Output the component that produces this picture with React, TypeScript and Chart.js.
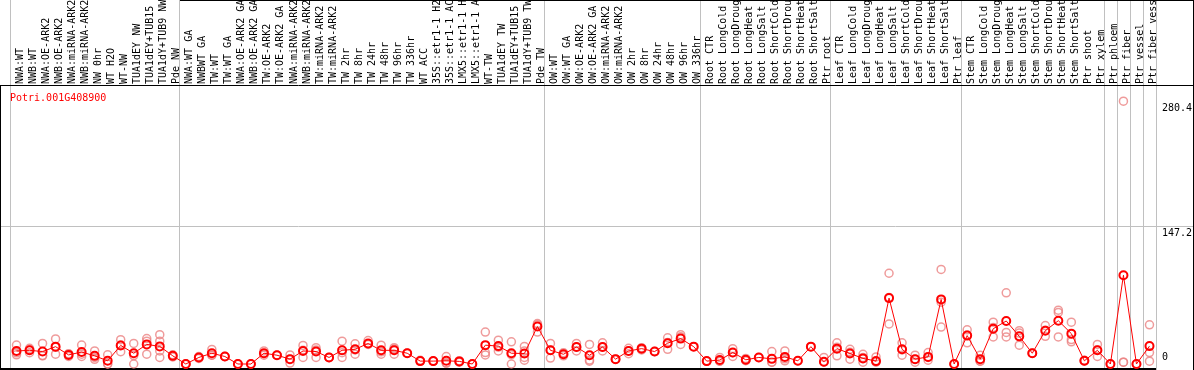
import React, { useEffect, useRef } from "react";
import { Chart, registerables } from "chart.js";

Chart.register(...registerables);

const geneId = "Potri.001G408900";

const categories = [
  "NWA:WT", "NWB:WT", "NWA:OE-ARK2", "NWB:OE-ARK2", "NWA:miRNA-ARK2", "NWB:miRNA-ARK2",
  "NW 0hr", "WT H2O", "WT-NW", "TUA1dEY NW", "TUA1dEY+TUB15 NW", "TUA1dY+TUB9 NW", "Pde NW",
  "NWA:WT GA", "NWBWT GA", "TW:WT", "TW:WT GA", "NWA:OE-ARK2 GA", "NWB:OE-ARK2 GA",
  "TW:OE-ARK2", "TW:OE-ARK2 GA", "NWA:miRNA-ARK2 GA", "NWB:miRNA-ARK2 GA", "TW:miRNA-ARK2",
  "TW:miRNA-ARK2", "TW 2hr", "TW 8hr", "TW 24hr", "TW 48hr", "TW 96hr", "TW 336hr", "WT ACC",
  "35S::etr1-1 H2O", "35S::etr1-1 ACC", "LMX5::etr1-1 H2O", "LMX5::etr1-1 ACC", "WT-TW",
  "TUA1dEY TW", "TUA1dEY+TUB15 TW", "TUA1dY+TUB9 TW", "Pde TW",
  "OW:WT", "OW:WT GA", "OW:OE-ARK2", "OW:OE-ARK2 GA", "OW:miRNA-ARK2", "OW:miRNA-ARK2",
  "OW 2hr", "OW 8hr", "OW 24hr", "OW 48hr", "OW 96hr", "OW 336hr",
  "Root CTR", "Root LongCold", "Root LongDrought", "Root LongHeat", "Root LongSalt",
  "Root ShortCold", "Root ShortDrought", "Root ShortHeat", "Root ShortSalt", "Ptr root",
  "Leaf CTR", "Leaf LongCold", "Leaf LongDrought", "Leaf LongHeat", "Leaf LongSalt",
  "Leaf ShortCold", "Leaf ShortDrought", "Leaf ShortHeat", "Leaf ShortSalt", "Ptr leaf",
  "Stem CTR", "Stem LongCold", "Stem LongDrought", "Stem LongHeat", "Stem LongSalt",
  "Stem ShortCold", "Stem ShortDrought", "Stem ShortHeat", "Stem ShortSalt", "Ptr shoot", "Ptr xylem",
  "Ptr phloem", "Ptr fiber", "Ptr vessel", "Ptr fiber vessel",
];

const groupSizes = [13, 28, 12, 10, 10, 11, 1, 1, 1, 1];

const meanValues = [
  13.9, 14.6, 13.3, 18.5, 9.7, 12.8, 8.7, 3.4, 19.8, 11.5, 20.9, 18.8, 8.7,
  0, 7, 11.5, 8, 0, 0, 11.5, 9.4, 5.2, 13.9, 13.3, 7, 14.6, 15.7, 21.9, 14.6, 14.6, 11.5, 3.1, 3.1, 3.4, 2.8, 0, 20.1, 19.1, 11.5, 11.2, 40,
  14.6, 10.4, 18.1, 9.4, 18.1, 5.2, 13.9, 16.4, 13.3, 22.2, 27.1, 18.5,
  3.1, 4.2, 12.2, 4.5, 7, 5.5, 7.6, 3.4, 18.5, 2.4,
  16.4, 11.2, 6, 3.1, 70.3, 15.7, 5.2, 7.6, 68.9, 0,
  30.3, 5.2, 37.6, 45.9, 29.5, 11.5, 35.5, 46.2, 32.4, 3.4, 14.6,
  0, 94.7, 0, 19.1,
];

const rep1 = [
  20.2, 16.7, 21.9, 26.8, 10.5, 20.2, 13.9, 9.8, 26, 21.9, 27.1, 31.3, 9.8,
  0, 8, 15.6, 8, 0, 0, 13.9, 9.4, 9.7, 19.8, 17.4, 7, 24.3, 21.6, 25, 20.1, 17.4, 11.5, 3, 3, 8, 3.5, 0, 34.1, 25.4, 23.7, 18.8, 43.1,
  21.9, 12.1, 21.9, 20.9, 22.6, 5.2, 11, 17.4, 13.3, 27.9, 31.3, 18.5,
  3, 7, 16.4, 5.9, 7, 13.3, 13.9, 3.4, 18.5, 7,
  22.6, 15.7, 10.4, 7.6, 96.8, 22.6, 9.4, 12.2, 100.9, 0,
  36.5, 9.4, 44.6, 75.9, 35.5, 11.5, 41, 57.4, 44.6, 3, 20.9,
  0, 280.4, 0, 41.8,
];

const rep2 = [
  9.8, 12.1, 8.7, 10.5, 8, 10.5, 7, 0, 20.2, 0, 24.4, 24.4, 7.6,
  0, 6, 9.4, 8, 0, 0, 9.4, 9.4, 5.2, 7, 7, 7, 7, 10.4, 20.9, 10.4, 10.4, 11.5, 4, 3, 1, 2, 0, 12.2, 13.9, 0, 13.9, 34.1,
  6.3, 8.7, 13.9, 4.2, 13.9, 5.2, 16.8, 15, 13.3, 15.7, 20.9, null,
  3, 3, 8, 3.6, null, 2, 3.4, null, null, 2,
  8.7, 5.2, 7, 2, 42.8, 9.4, 5.2, 7, 39.4, null,
  22.6, 3, 28.9, 33.7, 20.1, 11.5, 29.5, 55, 26.1, 4, 8,
  null, 2, null, 12.2,
];

const rep3 = [
  11.9, 14.9, 9, 17.8, 11, 8, 5, 0, 13.2, 9, 10.5, 13.9, null,
  null, null, 9.4, null, null, null, 11, null, 1, 14.6, 15, null, 12, 15, 21.5, 13, 16, null, null, null, 1, null, null, 9.7, 18, 10, 7, 42,
  15, 10.5, 18, 3, 18, null, 14, 16.7, null, 23, 29, null,
  null, 3, 12, 4, null, 2, 5.5, null, null, null,
  18, 12.5, 2, null, 71, 15, 2, 4, 66, null,
  31, 3, 39, 28.9, 33, null, 36, 28.9, 23.7, null, 15,
  null, 2, null, 3,
];

const rep4 = [
  null, null, null, null, null, null, null, null, null, null, null, 7, null,
  null, null, null, null, null, null, null, null, null, null, null, null, null, null, null, null, null, null, null, null, null, null, null, null, null, null, 4, null,
  null, null, null, null, null, null, null, null, null, null, null, null,
  null, null, null, null, null, null, null, null, null, null,
  null, null, null, null, null, null, null, null, null, null,
  null, null, null, null, null, null, null, null, null, null, null,
  null, null, null, null,
];

const yMax = 294.4;
const yGridValues = [147.2];
const yTickValues = [280.4, 147.2, 0];

const W = 1194;
const H = 370;

const decorPlugin = {
  id: "decor",
  beforeDatasetsDraw(chart: any) {
    const ctx = chart.ctx;
    const ys = chart.scales.y;
    const area = chart.chartArea;
    const n = categories.length;
    const step = (area.right - area.left) / n;
    ctx.save();
    // grey group separators
    ctx.strokeStyle = "#c0c0c0";
    ctx.lineWidth = 1;
    let acc = 0;
    const bounds = [0];
    groupSizes.forEach((s) => {
      acc += s;
      bounds.push(acc);
    });
    bounds.forEach((b) => {
      const x = Math.round(area.left + b * step) + 0.5;
      ctx.beginPath();
      ctx.moveTo(x, 0);
      ctx.lineTo(x, H);
      ctx.stroke();
    });
    yGridValues.forEach((v) => {
      const y = Math.round(ys.getPixelForValue(v)) + 0.5;
      ctx.beginPath();
      ctx.moveTo(0, y);
      ctx.lineTo(W, y);
      ctx.stroke();
    });
    // black frame lines
    ctx.strokeStyle = "#000";
    ctx.beginPath();
    ctx.moveTo(0, 85.5);
    ctx.lineTo(W, 85.5);
    ctx.moveTo(180, 0.5);
    ctx.lineTo(W, 0.5);
    ctx.moveTo(W - 0.5, 0);
    ctx.lineTo(W - 0.5, H);
    ctx.moveTo(0.5, 85);
    ctx.lineTo(0.5, H);
    ctx.stroke();
    ctx.lineWidth = 2;
    ctx.beginPath();
    ctx.moveTo(0, H - 1);
    ctx.lineTo(area.right, H - 1);
    ctx.stroke();
    // category labels
    ctx.font = '10px "DejaVu Sans Mono", monospace';
    ctx.fillStyle = "#000";
    ctx.textAlign = "left";
    ctx.textBaseline = "alphabetic";
    categories.forEach((c, i) => {
      const x = area.left + (i + 1) * step;
      ctx.save();
      ctx.translate(x, 84);
      ctx.rotate(-Math.PI / 2);
      ctx.fillText(c, 0, 0);
      ctx.restore();
    });
    // title
    ctx.fillStyle = "#ff0000";
    ctx.fillText(geneId, 10, 101);
    // y labels (left-aligned in the right margin)
    ctx.fillStyle = "#000";
    ctx.textAlign = "left";
    yTickValues.forEach((v) => {
      const py = ys.getPixelForValue(v);
      const ty = v === 0 ? py - 4 : py + 9.5;
      ctx.fillText(String(v), 1162, ty);
    });
    ctx.restore();
  },
};

export default function App() {
  const ref = useRef<HTMLCanvasElement>(null);
  useEffect(() => {
    document.body.style.margin = "0";
    const canvas = ref.current;
    if (!canvas) return;
    const repStyle = {
      type: "line" as const,
      showLine: false,
      pointRadius: 4,
      pointBorderWidth: 1.5,
      pointBorderColor: "rgba(235,130,130,0.8)",
      pointBackgroundColor: "rgba(0,0,0,0)",
      order: 2,
      clip: false as any,
    };
    const chart = new Chart(canvas, {
      type: "line",
      data: {
        labels: categories,
        datasets: [
          {
            label: "mean",
            data: meanValues,
            borderColor: "#ff0000",
            borderWidth: 1,
            pointRadius: 4,
            pointBorderWidth: 2,
            pointBorderColor: "#ff0000",
            pointBackgroundColor: "rgba(0,0,0,0)",
            tension: 0,
            order: 0,
            clip: false as any,
          },
          { ...repStyle, label: "r1", data: rep1 },
          { ...repStyle, label: "r2", data: rep2 },
          { ...repStyle, label: "r3", data: rep3 },
          { ...repStyle, label: "r4", data: rep4 },
        ] as any,
      },
      options: {
        animation: false,
        responsive: false,
        devicePixelRatio: 1,
        layout: { padding: { left: 10, right: W - 1156, top: 88, bottom: 0 } },
        plugins: { legend: { display: false }, tooltip: { enabled: false } },
        scales: {
          x: { type: "category", offset: true, display: false },
          y: { min: 0, max: yMax, display: false },
        },
      },
      plugins: [decorPlugin],
    });
    return () => chart.destroy();
  }, []);
  return (
    <canvas
      ref={ref}
      width={W}
      height={H}
      style={{ display: "block", position: "absolute", left: 0, top: 0, width: W, height: H }}
    />
  );
}
